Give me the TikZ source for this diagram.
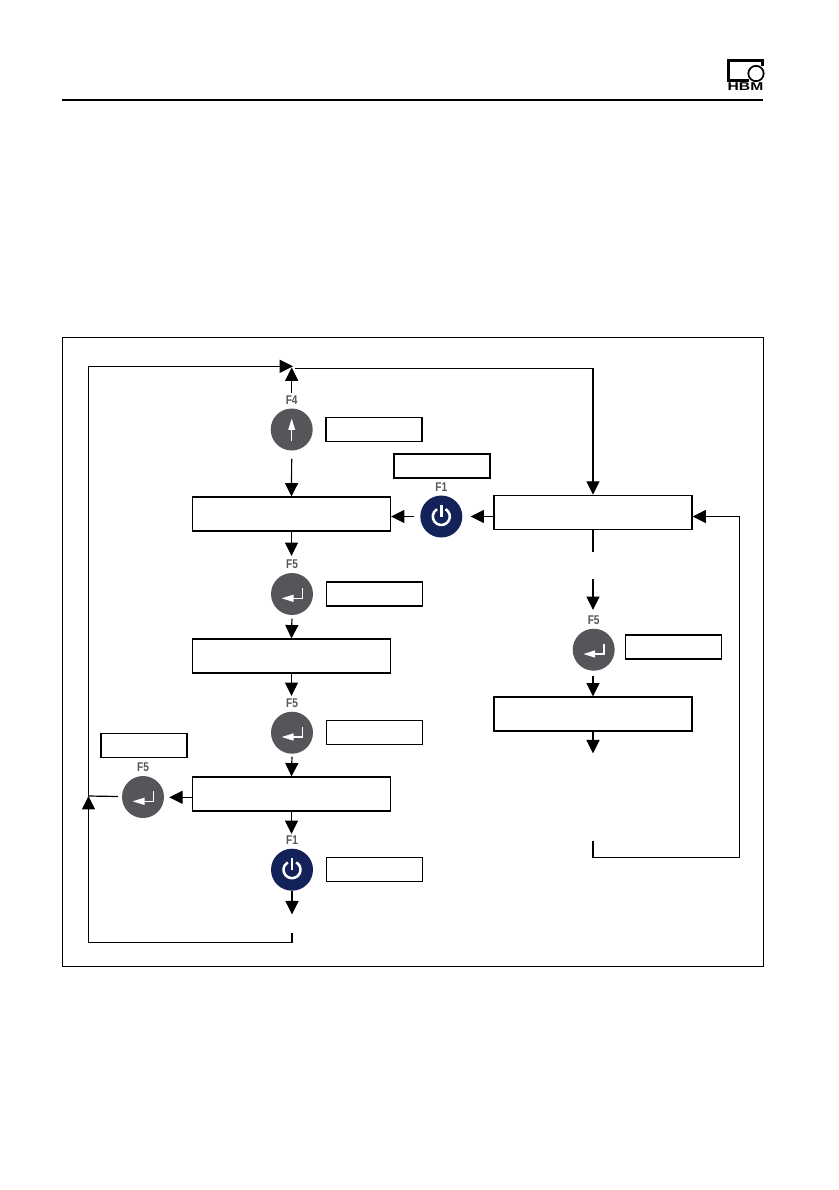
\documentclass[tikz,border=0pt]{standalone}
\usepackage{xcolor}
\usepackage{graphicx}
\usepackage{fontspec}
\setmainfont{Liberation Sans}
\usetikzlibrary{arrows.meta,positioning}

\definecolor{keygray}{HTML}{54565A}
\definecolor{keynavy}{HTML}{14225A}

% white symbols drawn on top of a key node
\newcommand{\powersign}[1]{
  \begin{scope}[shift={(#1)}, white, line width=1.9pt]
    \draw (300:8.5) arc[start angle=300, end angle=600, radius=8.5];
    \draw (0,-11.5) -- (0,0);
  \end{scope}
}
\newcommand{\returnsign}[1]{
  \begin{scope}[shift={(#1)}, white, line width=1.1pt]
    \draw[-{Triangle[length=9pt, width=5.2pt]}] (10.5,-6) -- (10.5,4.3) -- (-10.5,4.3);
  \end{scope}
}
\newcommand{\upsign}[1]{
  \begin{scope}[shift={(#1)}, white, line width=0.9pt]
    \draw[-{Triangle[length=8.5pt, width=5pt]}] (0,11) -- (0,-11);
  \end{scope}
}
\newcommand{\keylabel}[1]{\scalebox{0.8}[1]{#1}}

\begin{document}
\begin{tikzpicture}[
    x=0.75pt, y=-0.75pt,
    line width=0.9pt,
    mainbox/.style={draw, minimum width=148.5pt, minimum height=25.5pt, inner sep=0pt},
    hintbox/.style={draw, minimum width=72pt, minimum height=18pt, inner sep=0pt},
    greykey/.style={circle, fill=keygray, minimum size=31.5pt, inner sep=0pt},
    navykey/.style={circle, fill=keynavy, minimum size=31.5pt, inner sep=0pt},
    keyname/.style={above=2.2pt, font=\bfseries\fontsize{9.5}{9.5}\selectfont, text=keygray, inner sep=0pt},
    arrow/.style={-{Triangle[length=10pt, width=9.75pt]}}
]
\useasboundingbox (0,0) rectangle (839,1190);

% page head
\draw (62,100) -- (763,100);
\draw[line width=1.6pt] (762.5,66) -- (762.5,60.5) -- (728.5,60.5) -- (728.5,80.5) -- (749,80.5);
\node[circle, draw, fill=white, line width=1.3pt, minimum size=11.5pt, inner sep=0pt] (logoring) at (756,73.5) {};
\node[inner sep=0pt, font=\bfseries\fontsize{8.5}{8.5}\selectfont] (logoname) at (745.5,86.7) {\scalebox{1.38}[1]{HBM}};

% frame
\draw (62.5,337.5) rectangle (763.5,966.5);

% left column
\node[greykey] (keyup) at (291.7,429.5) {};
\node[mainbox] (modeA) at (291.5,514) {};
\node[greykey] (enterA) at (292,594) {};
\node[mainbox] (modeB) at (291.5,656) {};
\node[greykey] (enterB) at (292,732.7) {};
\node[mainbox] (modeC) at (291.5,794) {};
\node[navykey] (powerB) at (292,869.7) {};
\node[greykey] (enterL) at (143,797) {};

% right column
\node[mainbox] (modeD) at (593,512.3) {};
\node[navykey] (powerA) at (441.3,516.5) {};
\node[greykey] (enterR) at (593.7,649.7) {};
\node[mainbox] (modeE) at (593,714) {};

% key names
\node[keyname] (nameup) at (keyup.north) {\keylabel{F4}};
\node[keyname] (nameA) at (enterA.north) {\keylabel{F5}};
\node[keyname] (nameB) at (enterB.north) {\keylabel{F5}};
\node[keyname] (nameL) at (enterL.north) {\keylabel{F5}};
\node[keyname] (nameR) at (enterR.north) {\keylabel{F5}};
\node[keyname] (namepA) at (powerA.north) {\keylabel{F1}};
\node[keyname] (namepB) at (powerB.north) {\keylabel{F1}};

% empty hint boxes
\node[hintbox, right=9pt of keyup] (hintup) {};
\node[hintbox, right=9pt of enterA] (hintA) {};
\node[hintbox, right=9pt of enterB] (hintB) {};
\node[hintbox, right=9pt of powerB] (hintC) {};
\node[hintbox] (hintR) at (673.7,647) {};
\node[hintbox] (hintP) at (442,466) {};
\node[hintbox, minimum width=64.5pt] (hintL) at (144,745.5) {};

% symbols
\upsign{keyup}
\returnsign{enterA}
\returnsign{enterB}
\returnsign{enterL}
\returnsign{enterR}
\powersign{powerA}
\powersign{powerB}

% free ends
\coordinate (startup) at (291.7,392.7);
\coordinate (tipup) at (291.7,367.5);
\coordinate (tiptop) at (293,366.3);
\coordinate (topjoin) at (295,368.3);
\coordinate (leftjoin) at (88.5,796);
\coordinate (leftstart) at (118,796.5);
\coordinate (tipA) at (291.5,556);
\coordinate (tipB) at (291.5,696);
\coordinate (tipC) at (291.5,834);
\coordinate (tipD) at (292,914.3);
\coordinate (startD) at (292,933);
\coordinate (cornerD) at (292,942.3);
\coordinate (tipL) at (169.3,797.3);
\coordinate (stubR) at (593,551.7);
\coordinate (startR) at (593,579);
\coordinate (tipR) at (593,610);
\coordinate (tipE) at (593,753.3);
\coordinate (startE) at (593,840.7);
\coordinate (cornerE) at (739.3,857.3);

% left column connectors
\draw[arrow] (startup) -- (tipup);
\draw[arrow, shorten <=5.9pt] (keyup.south) -- (modeA.north);
\draw[arrow] (modeA.south) -- (tipA);
\draw[arrow, shorten <=2.2pt] (enterA.south) -- (modeB.north);
\draw[arrow] (modeB.south) -- (tipB);
\draw[arrow, shorten <=1.7pt] (enterB.south) -- (modeC.north);
\draw[arrow] (modeC.south) -- (tipC);
\draw[arrow] (powerB.south) -- (tipD);
\draw[arrow] (modeC.west |- tipL) -- (tipL);
\draw (leftstart) -- (leftjoin);

% return loop on the left and over the top
\draw[arrow] (startD) -- (cornerD) -| (leftjoin);
\draw[arrow] (leftjoin) |- (tiptop);
\draw[arrow] (topjoin) -| (modeD.north);

% right column connectors
\draw[arrow, shorten >=5.7pt] (modeD.west |- powerA) -- (powerA.east);
\draw[arrow, shorten <=4.5pt] (powerA.west) -- (modeA.east |- powerA);
\draw (modeD.south) -- (stubR);
\draw[arrow] (startR) -- (tipR);
\draw[arrow, shorten <=3.7pt] (enterR.south -| modeE) -- (modeE.north);
\draw[arrow] (modeE.south) -- (tipE);
\draw[arrow] (startE) |- (cornerE) |- (modeD.east |- powerA);
\end{tikzpicture}
\end{document}
